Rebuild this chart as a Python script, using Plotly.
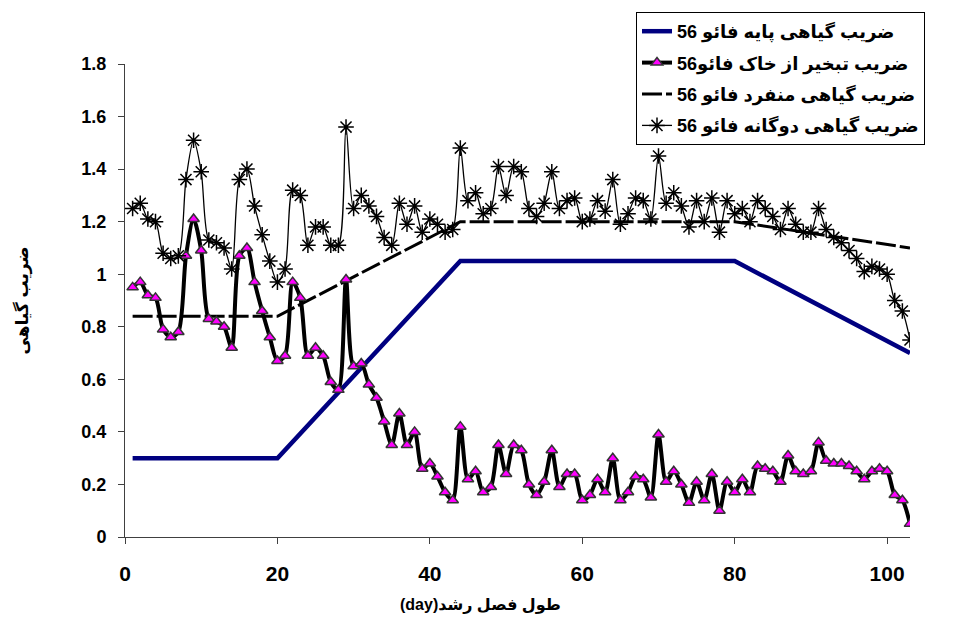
import plotly.graph_objects as go

# Day of the growing season
days = list(range(1, 104))

# FAO-56 basal crop coefficient (breakpoints of the stage curve)
kcb_days = [1, 20, 44, 80, 103]
kcb_vals = [0.30, 0.30, 1.05, 1.05, 0.70]

# FAO-56 single crop coefficient (breakpoints of the stage curve)
kc_single_days = [1, 20, 44, 80, 103]
kc_single_vals = [0.84, 0.84, 1.20, 1.20, 1.10]

# FAO-56 soil evaporation coefficient, daily
ke_vals = [
    0.95, 0.97, 0.92, 0.91, 0.79, 0.76, 0.78, 1.07, 1.21, 1.09,
    0.83, 0.82, 0.80, 0.72, 1.07, 1.10, 0.97, 0.86, 0.76, 0.67,
    0.69, 0.97, 0.91, 0.69, 0.72, 0.69, 0.59, 0.56, 0.98, 0.65,
    0.66, 0.58, 0.53, 0.44, 0.35, 0.47, 0.35, 0.40, 0.26, 0.28,
    0.23, 0.17, 0.14, 0.42, 0.22, 0.25, 0.17, 0.19, 0.35, 0.24,
    0.35, 0.33, 0.20, 0.16, 0.21, 0.33, 0.19, 0.24, 0.24, 0.14,
    0.16, 0.22, 0.17, 0.30, 0.14, 0.17, 0.23, 0.22, 0.15, 0.39,
    0.21, 0.25, 0.20, 0.13, 0.21, 0.14, 0.24, 0.10, 0.21, 0.17,
    0.22, 0.17, 0.27, 0.26, 0.25, 0.21, 0.31, 0.25, 0.24, 0.25,
    0.36, 0.29, 0.28, 0.28, 0.27, 0.25, 0.22, 0.25, 0.26, 0.25,
    0.16, 0.14, 0.05,
]

# FAO-56 dual crop coefficient, daily
kc_dual_vals = [
    1.25, 1.27, 1.21, 1.20, 1.08, 1.06, 1.07, 1.36, 1.51, 1.39,
    1.13, 1.12, 1.10, 1.02, 1.36, 1.40, 1.26, 1.15, 1.05, 0.97,
    1.02, 1.32, 1.30, 1.11, 1.18, 1.18, 1.11, 1.11, 1.56, 1.25,
    1.30, 1.26, 1.22, 1.14, 1.11, 1.27, 1.19, 1.26, 1.16, 1.21,
    1.19, 1.16, 1.17, 1.48, 1.28, 1.31, 1.23, 1.25, 1.41, 1.30,
    1.41, 1.39, 1.25, 1.22, 1.27, 1.39, 1.25, 1.28, 1.29, 1.20,
    1.21, 1.28, 1.24, 1.36, 1.19, 1.23, 1.29, 1.28, 1.21, 1.45,
    1.27, 1.31, 1.26, 1.18, 1.28, 1.20, 1.29, 1.16, 1.28, 1.23,
    1.25, 1.20, 1.28, 1.25, 1.22, 1.17, 1.25, 1.19, 1.16, 1.16,
    1.25, 1.17, 1.14, 1.12, 1.09, 1.06, 1.01, 1.03, 1.02, 1.00,
    0.90, 0.86, 0.75,
]

names = [
    "ضریب گیاهی پایه فائو 56",
    "ضریب تبخیر از خاک فائو56",
    "ضریب گیاهی منفرد فائو 56",
    "ضریب گیاهی دوگانه فائو 56",
]

x_ticks = [0, 20, 40, 60, 80, 100]
y_ticks = [0, 0.2, 0.4, 0.6, 0.8, 1, 1.2, 1.4, 1.6, 1.8]

FONT = "Liberation Sans, Arial, DejaVu Sans, sans-serif"

fig = go.Figure()

fig.add_trace(go.Scatter(
    x=kcb_days, y=kcb_vals, name=names[0], mode="lines",
    line=dict(color="#000080", width=4.5),
    legendgroup="g1", legendrank=1,
))
fig.add_trace(go.Scatter(
    x=kc_single_days, y=kc_single_vals, name=names[2], mode="lines",
    line=dict(color="black", width=3, dash="20px,4px"),
    legendgroup="g3", legendrank=3,
))
fig.add_trace(go.Scatter(
    x=days, y=ke_vals, name=names[1], mode="lines+markers",
    line=dict(color="black", width=4, shape="spline", smoothing=0.8),
    marker=dict(symbol="triangle-up", size=10, color="#FF00FF",
                line=dict(color="#333333", width=1.5)),
    legendgroup="g2", legendrank=2,
))
fig.add_trace(go.Scatter(
    x=days, y=kc_dual_vals, name=names[3], mode="lines+markers",
    line=dict(color="black", width=1.3, shape="spline", smoothing=0.8),
    marker=dict(symbol="asterisk-open", size=13,
                line=dict(color="black", width=1.5)),
    legendgroup="g4", legendrank=4,
))

W, H = 958, 628
ml, mr, mt, mb = 125, 48, 64, 91
pw, ph = W - ml - mr, H - mt - mb

fig.update_layout(
    width=W, height=H,
    margin=dict(l=ml, r=mr, t=mt, b=mb),
    paper_bgcolor="white", plot_bgcolor="white",
    font=dict(family=FONT, color="black"),
    showlegend=True,
    legend=dict(
        x=(636 - ml) / pw, y=(H - mb - 12) / ph,
        xanchor="left", yanchor="top",
        bgcolor="white", bordercolor="black", borderwidth=1,
        font=dict(family=FONT, size=18, color="black", weight="bold"),
        traceorder="grouped", tracegroupgap=5, itemwidth=30,
    ),
    xaxis=dict(
        range=[0, 103], tickvals=x_ticks, showgrid=False, zeroline=False,
        showline=True, linecolor="#404040", linewidth=1,
        ticks="outside", ticklen=6, tickcolor="#404040",
        tickfont=dict(family=FONT, size=21, weight="bold"),
        ticklabelstandoff=12,
    ),
    yaxis=dict(
        range=[0, 1.8], tickvals=y_ticks, showgrid=False, zeroline=False,
        showline=True, linecolor="#404040", linewidth=1,
        ticks="outside", ticklen=6, tickcolor="#404040",
        tickfont=dict(family=FONT, size=18, weight="bold"),
        ticklabelstandoff=8,
    ),
    annotations=[
        dict(text="\u202bطول فصل رشد(day)\u202c", xref="paper", yref="paper",
             x=(480 - ml) / pw, y=-(605 - (H - mb)) / ph,
             xanchor="center", yanchor="middle", showarrow=False,
             font=dict(family=FONT, size=16, weight="bold")),
        dict(text="ضریب گیاهی", xref="paper", yref="paper",
             x=-(ml - 22) / pw, y=0.5, textangle=-90,
             xanchor="center", yanchor="middle", showarrow=False,
             font=dict(family=FONT, size=17, weight="bold")),
    ],
)

fig.write_html("out.html")
